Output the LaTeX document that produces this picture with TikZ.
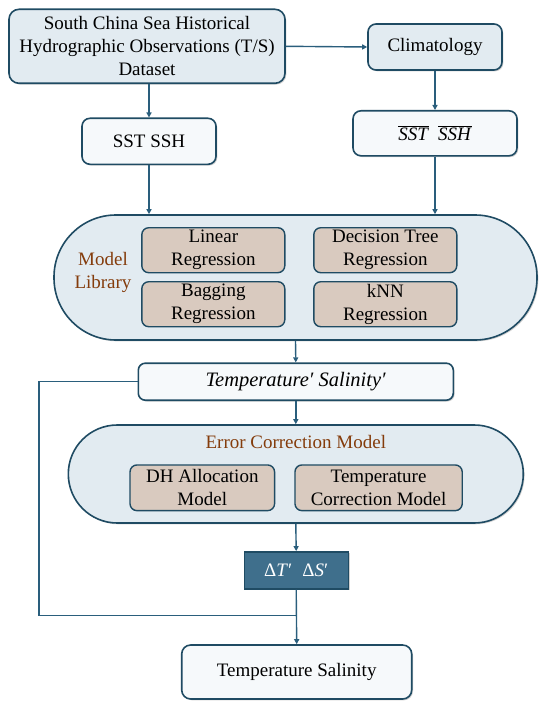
\documentclass[tikz,border=0pt]{standalone}
\usepackage{fontspec}
\setmainfont{Liberation Serif}
\usetikzlibrary{arrows.meta,shadows}
\definecolor{edge}{HTML}{1F4B63}
\definecolor{conn}{HTML}{2A5E7C}
\definecolor{lightfill}{HTML}{E2EBF1}
\definecolor{whitefill}{HTML}{F6F9FB}
\definecolor{tanfill}{HTML}{D9CABF}
\definecolor{brownt}{HTML}{843C0C}
\definecolor{deltafill}{HTML}{3F6F8C}
\tikzset{
  every node/.style={font=\fontsize{19}{23}\selectfont, align=center, inner sep=0pt},
  shadowed/.style={drop shadow={shadow xshift=1.3pt, shadow yshift=-1.3pt, opacity=0.3, fill=black!60}},
  boxbase/.style={draw=edge, line width=1.6pt, shadowed},
  lightbox/.style={boxbase, fill=lightfill, rounded corners=8pt},
  whitebox/.style={boxbase, fill=whitefill, rounded corners=8pt},
  tanbox/.style={draw=edge, line width=1.4pt, fill=tanfill, rounded corners=7pt, minimum width=143pt, minimum height=45pt},
  stadium/.style={boxbase, fill=lightfill},
  conn/.style={draw=conn, line width=1.4pt},
  arr/.style={conn, -{Triangle[length=5pt,width=5pt]}},
}
\begin{document}
\begin{tikzpicture}[x=1pt,y=-1pt]
\useasboundingbox (0,0) rectangle (550,706);
% top boxes
\node[lightbox, rounded corners=10pt, minimum width=276pt, minimum height=74pt] (ds) at (147,46.3)
  {South China Sea Historical\\Hydrographic Observations (T/S)\\Dataset};
\node[lightbox, minimum width=134pt, minimum height=46pt] (clim) at (435,47) {Climatology};
\node[whitebox, minimum width=134pt, minimum height=46pt] (sst) at (149,141.3) {SST SSH};
\node[whitebox, minimum width=164pt, minimum height=45pt] (sstbar) at (435,133.3)
  {$\overline{\mbox{\textit{SST}}}$\hspace{9pt}$\overline{\mbox{\textit{SSH}}}$};
% model library
\node[stadium, rounded corners=62pt, minimum width=483pt, minimum height=125pt] (lib) at (295.5,277.5) {};
\node[text=brownt] (libl) at (103,272) {Model\\Library};
\node[tanbox] (lin) at (213.3,250.2) {Linear\\Regression};
\node[tanbox] (dt) at (385.3,250.2) {Decision Tree\\Regression};
\node[tanbox] (bag) at (213.3,304.2) {Bagging\\Regression};
\node[tanbox] (knn) at (385.3,304.2) {kNN\\Regression};
% temperature' salinity'
\node[whitebox, rounded corners=7pt, minimum width=315pt, minimum height=37pt] (tsp) at (295.8,381.7)
  {\fontsize{20.5}{23}\selectfont\textit{Temperature′ Salinity′}};
% error correction
\node[stadium, rounded corners=49pt, minimum width=455pt, minimum height=98pt] (err) at (295.8,474) {};
\node[text=brownt] (errl) at (295.8,441.7) {Error Correction Model};
\node[tanbox, minimum width=144.6pt, minimum height=45.7pt] (dh) at (202.3,487.8) {DH Allocation\\Model};
\node[tanbox, minimum width=167.3pt, minimum height=45.7pt] (tc) at (378.6,487.8) {Temperature\\Correction Model};
% delta
\node[draw=edge, line width=1.4pt, fill=deltafill, shadowed, minimum width=104pt, minimum height=37pt, text=white] (delta) at (296.2,570.3)
  {Δ\textit{T}′\hspace{10pt}Δ\textit{S}′};
% final
\node[whitebox, rounded corners=9pt, minimum width=230pt, minimum height=54pt] (final) at (296.7,672) {Temperature Salinity};
% connectors
\draw[arr] (ds.east) -- (clim.west);
\draw[arr] (sst.north |- ds.south) -- (sst.north);
\draw[arr] (clim.south) -- (sstbar.north);
\draw[arr] (sst.south) -- (sst.south |- lib.north);
\draw[arr] (sstbar.south) -- (sstbar.south |- lib.north);
\draw[arr] (lib.south) -- (tsp.north);
\draw[arr] (tsp.south) -- (err.north);
\draw[arr] (err.south) -- (delta.north);
\draw[arr] (delta.south) -- (final.north);
\coordinate (fb) at (39,615.7);
\draw[conn] (tsp.west) -| (fb) -- (fb -| final.north);
\end{tikzpicture}
\end{document}
